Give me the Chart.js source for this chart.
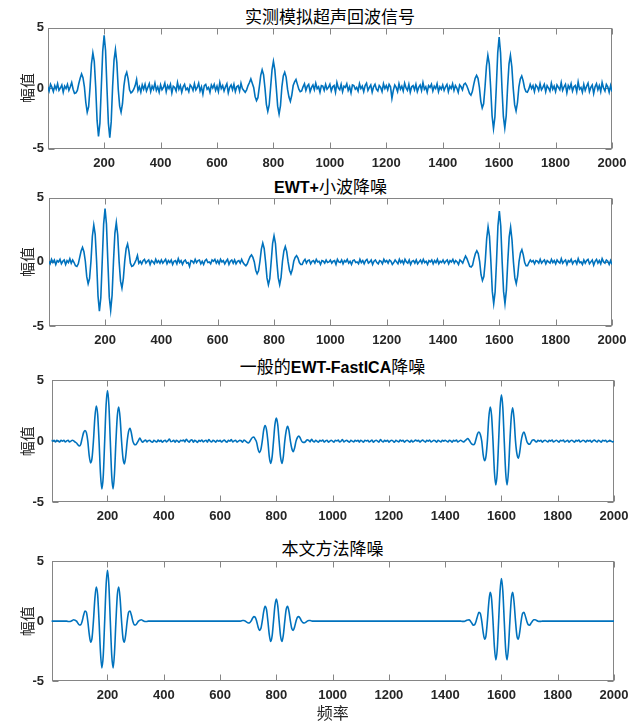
<!DOCTYPE html>
<html lang="zh">
<head>
<meta charset="UTF-8">
<title>超声回波信号降噪对比</title>
<script src="https://cdn.jsdelivr.net/npm/chart.js"></script>
<style>
  body { margin: 0; background: #fff; }
  #page { position: relative; width: 642px; height: 724px; overflow: hidden; }
  canvas { position: absolute; left: 0; }
  .ttl { position: absolute; text-align: center; white-space: nowrap; color: #000;
         font-family: "Noto Sans CJK SC", sans-serif; font-size: 17px; line-height: 20px; }
  .ttl b { font-family: "Liberation Sans", Arial, sans-serif; font-size: 16px; font-weight: bold; }
</style>
</head>
<body>
<div id="page">
  <div class="ttl" style="left:48px;width:564px;top:6px">实测模拟超声回波信号</div>
  <div class="ttl" style="left:49px;width:563px;top:176px"><b>EWT+</b>小波降噪</div>
  <div class="ttl" style="left:51px;width:563px;top:356px">一般的<b>EWT-FastICA</b>降噪</div>
  <div class="ttl" style="left:51px;width:563px;top:538px">本文方法降噪</div>
  <canvas id="c0"></canvas>
  <canvas id="c1"></canvas>
  <canvas id="c2"></canvas>
  <canvas id="c3"></canvas>
</div>

<script>
// 采样点序号（每5个点取一个）
const sampleIdx = Array.from({ length: 401 }, (_, i) => i * 5);
const xTicks = [200, 400, 600, 800, 1000, 1200, 1400, 1600, 1800, 2000];
const yTicks = [-5, 0, 5];

// 实测模拟超声回波信号
const rawEcho = [
  0.1,-0.25,0.3,0.05,-0.3,0.2,-0.1,0.35,-0.2,0.0,0.25,-0.35,0.15,-0.05,0.3,-0.2,0.1,0.45,-0.1,-0.45,
  -0.4,-0.2,0.35,0.8,1.16,0.85,0.1,-1.2,-2.0,-1.55,0.05,2.0,2.9,2.2,0.1,-2.7,-4.0,-2.9,0.1,3.05,
  4.36,3.1,0.0,-2.9,-4.1,-2.8,0.1,2.3,3.17,2.1,-0.1,-1.5,-2.0,-1.3,0.15,1.0,1.3,0.75,-0.15,-0.4,
  -0.3,-0.1,0.2,0.7,-0.2,0.1,-0.35,0.25,-0.1,0.3,-0.25,0.05,0.35,-0.3,0.15,-0.1,0.4,-0.2,0.1,-0.35,
  0.25,-0.15,0.05,0.4,-0.3,0.2,-0.05,0.3,-0.4,0.15,0.05,-0.25,0.45,-0.1,0.2,-0.35,0.1,0.3,-0.15,0.0,
  -0.3,0.25,0.1,-0.2,0.35,-0.15,0.05,0.4,-0.25,0.1,-0.5,0.2,0.3,-0.1,0.05,-0.35,0.25,0.0,0.3,-0.2,
  0.15,-0.3,0.45,-0.05,0.2,-0.25,0.1,0.35,-0.4,0.05,0.25,-0.15,0.3,-0.3,0.1,0.2,-0.25,0.4,-0.05,-0.2,
  -0.35,-0.15,0.2,0.45,0.75,0.4,0.05,-0.7,-1.05,-0.8,0.1,1.05,1.5,1.1,0.0,-1.35,-1.93,-1.4,0.05,1.5,
  2.2,1.5,0.05,-1.5,-2.15,-1.45,0.1,1.0,1.3,0.9,-0.1,-0.75,-1.1,-0.6,0.2,0.5,0.7,0.3,-0.1,-0.3,
  -0.25,0.1,0.35,-0.2,0.15,0.3,-0.3,0.05,0.25,-0.15,0.4,-0.05,0.1,-0.35,0.2,0.15,-0.2,0.3,-0.1,0.05,
  0.3,-0.25,0.1,0.2,-0.35,0.45,0.0,-0.15,0.3,-0.3,0.15,0.05,0.35,-0.2,0.1,-0.4,0.25,0.2,-0.1,0.05,
  -0.25,0.35,-0.05,0.15,-0.3,0.2,0.4,-0.2,0.05,0.25,-0.35,0.1,0.3,-0.1,-0.25,0.2,0.05,-0.3,0.35,-0.05,
  0.2,-0.15,0.3,0.1,-0.85,-0.2,0.25,0.05,-0.3,0.35,-0.1,0.15,-0.25,0.4,0.0,-0.2,0.3,-0.35,0.1,0.2,
  -0.15,0.3,-0.3,0.05,0.25,-0.2,0.45,-0.1,0.1,-0.35,0.2,0.05,0.3,-0.25,0.15,-0.05,0.35,-0.3,0.1,-0.1,
  0.25,-0.2,0.1,0.3,-0.3,0.15,-0.05,0.35,-0.2,0.2,0.0,-0.35,0.25,0.1,-0.15,0.3,0.4,0.2,-0.1,-0.45,
  -0.6,-0.3,0.3,0.8,1.05,0.8,0.05,-1.1,-1.65,-1.3,0.1,1.8,2.7,2.0,0.0,-2.3,-3.36,-2.4,0.1,2.9,
  4.2,2.9,0.0,-2.35,-3.3,-2.3,0.1,2.0,2.7,1.75,-0.05,-1.4,-1.9,-1.2,0.1,0.75,1.0,0.6,0.0,-0.3,
  -0.35,-0.1,0.3,-0.05,0.2,-0.3,0.25,0.1,-0.2,0.35,-0.15,0.05,0.3,-0.3,0.2,0.0,-0.25,0.4,-0.1,0.15,
  -0.3,0.25,0.05,-0.15,0.45,-0.2,0.1,0.3,-0.4,0.2,-0.05,0.35,-0.25,0.1,0.2,-0.3,0.5,-0.1,0.05,-0.35,
  0.3,-0.2,0.15,0.4,-0.3,0.05,0.25,-0.45,0.1,0.35,-0.15,0.2,-0.3,0.45,0.0,-0.25,0.3,0.1,-0.35,0.2,
  -0.3
];

// EWT+小波降噪
const ewtWavelet = [
  0.05,-0.15,0.2,-0.05,0.15,-0.2,0.1,0.0,0.2,-0.15,0.05,0.15,-0.2,0.1,-0.05,0.25,-0.1,0.15,-0.05,-0.3,
  -0.35,-0.15,0.35,0.85,1.13,0.8,0.05,-1.15,-1.7,-1.3,0.05,2.0,2.87,2.15,0.05,-2.65,-3.85,-2.8,0.05,2.95,
  4.15,2.95,0.0,-2.75,-3.77,-2.6,0.05,2.25,3.07,2.1,0.0,-1.5,-2.04,-1.3,0.1,1.05,1.4,0.8,-0.1,-0.35,
  -0.3,-0.1,0.15,0.5,-0.1,0.05,-0.15,0.1,0.2,-0.1,0.05,0.15,-0.2,0.1,0.0,-0.15,0.2,-0.05,0.1,-0.1,
  0.15,-0.1,0.05,0.2,-0.15,0.1,-0.05,0.15,-0.2,0.05,0.1,-0.15,0.25,-0.05,0.1,-0.2,0.05,0.15,-0.1,-0.05,
  -0.35,0.1,0.05,-0.1,0.2,-0.05,0.1,0.15,-0.15,0.05,-0.2,0.1,0.2,-0.05,0.0,-0.15,0.15,0.05,0.2,-0.1,
  0.1,-0.15,0.2,0.0,0.1,-0.15,0.05,0.2,-0.2,0.05,0.15,-0.1,0.15,-0.15,0.05,0.1,-0.1,0.2,-0.05,-0.2,
  -0.3,-0.15,0.15,0.4,0.54,0.35,0.0,-0.65,-0.93,-0.7,0.05,1.0,1.47,1.05,0.0,-1.25,-1.78,-1.3,0.05,1.45,
  2.04,1.45,0.0,-1.25,-1.78,-1.2,0.05,0.85,1.2,0.8,0.0,-0.65,-0.93,-0.6,0.05,0.35,0.49,0.3,-0.05,-0.2,
  -0.2,0.05,0.2,-0.1,0.1,0.15,-0.15,0.05,0.1,-0.1,0.2,0.0,0.05,-0.2,0.1,0.05,-0.1,0.15,-0.05,0.0,
  0.15,-0.1,0.05,0.1,-0.2,0.2,0.0,-0.05,0.15,-0.15,0.1,0.0,0.2,-0.1,0.05,-0.2,0.1,0.15,-0.05,0.0,
  -0.15,0.2,-0.05,0.1,-0.15,0.1,0.2,-0.1,0.0,0.15,-0.2,0.05,0.15,-0.05,-0.15,0.1,0.05,-0.15,0.2,0.0,
  0.1,-0.1,0.15,0.05,-0.2,-0.05,0.15,0.0,-0.15,0.2,-0.05,0.1,-0.15,0.2,0.0,-0.1,0.15,-0.2,0.05,0.1,
  -0.1,0.15,-0.15,0.0,0.15,-0.1,0.2,-0.05,0.05,-0.2,0.1,0.0,0.15,-0.15,0.1,-0.05,0.2,-0.15,0.05,-0.05,
  0.15,-0.1,0.05,0.15,-0.15,0.1,0.0,0.2,-0.1,0.1,0.0,-0.2,0.15,0.05,-0.1,0.2,0.45,0.25,-0.05,-0.35,
  -0.4,-0.25,0.25,0.65,0.87,0.65,0.05,-1.0,-1.45,-1.15,0.05,1.8,2.74,2.0,0.0,-2.3,-3.26,-2.35,0.05,2.8,
  3.97,2.8,0.0,-2.3,-3.26,-2.2,0.05,1.95,2.7,1.7,0.0,-1.25,-1.7,-1.1,0.05,0.7,0.95,0.55,-0.05,-0.3,
  -0.3,-0.05,0.15,0.0,0.1,-0.15,0.1,0.05,-0.1,0.2,-0.1,0.05,0.15,-0.15,0.1,0.0,-0.1,0.2,-0.05,0.1,
  -0.15,0.15,0.0,-0.1,0.25,-0.1,0.05,0.15,-0.2,0.1,0.0,0.2,-0.15,0.05,0.1,-0.15,0.25,-0.05,0.0,-0.2,
  0.15,-0.1,0.1,0.2,-0.15,0.0,0.15,-0.25,0.05,0.2,-0.1,0.1,-0.15,0.25,0.0,-0.1,0.15,0.05,-0.2,0.1,
  -0.2
];

// 一般的EWT-FastICA降噪
const ewtFastICA = [
  0.08,0.0,0.07,-0.06,0.08,0.02,-0.07,0.08,0.0,0.07,-0.06,0.02,0.08,-0.07,0.0,0.08,0.02,-0.07,-0.15,-0.3,
  -0.4,-0.25,0.25,0.7,0.88,0.7,0.0,-1.2,-1.79,-1.4,0.0,1.9,2.88,2.2,0.0,-2.65,-3.92,-2.85,0.0,2.95,
  4.16,2.95,0.0,-2.85,-3.92,-2.6,0.0,2.1,2.8,1.85,0.0,-1.4,-1.87,-1.2,0.0,0.8,1.06,0.65,0.0,-0.25,
  -0.3,-0.15,0.05,0.25,0.05,-0.08,0.02,0.1,-0.06,0.04,0.08,-0.04,-0.08,0.06,0.0,-0.07,0.09,-0.02,0.06,-0.08,
  0.02,0.08,-0.06,0.04,0.18,-0.05,-0.02,0.08,-0.08,0.06,0.0,-0.09,0.07,0.02,0.1,-0.06,0.16,0.02,-0.08,0.06,
  0.12,-0.08,0.06,0.0,-0.1,0.08,-0.02,0.1,-0.06,0.02,0.08,-0.08,0.14,0.0,-0.07,0.06,0.02,-0.09,0.07,0.0,
  0.06,-0.07,0.02,0.09,-0.03,-0.08,0.07,0.0,0.14,-0.06,0.02,0.08,-0.07,0.0,0.06,0.03,-0.08,0.1,0.02,-0.08,
  -0.15,-0.05,0.15,0.3,0.34,0.15,-0.1,-0.65,-0.94,-0.7,0.0,0.9,1.28,0.95,0.0,-1.3,-1.84,-1.3,0.0,1.35,
  1.89,1.35,0.0,-1.3,-1.84,-1.25,0.0,0.85,1.22,0.85,0.0,-0.6,-0.86,-0.55,0.0,0.3,0.42,0.25,0.0,-0.1,
  -0.1,0.0,0.12,0.06,-0.06,0.16,0.0,-0.07,0.08,-0.02,-0.08,0.07,0.0,0.09,-0.07,0.02,0.08,-0.08,0.0,0.07,
  0.0,-0.08,0.07,0.02,0.09,-0.07,0.0,0.14,-0.06,0.02,0.08,-0.02,-0.09,0.07,0.0,-0.07,0.08,0.0,0.07,-0.08,
  0.08,0.0,-0.08,0.07,0.02,0.08,-0.07,0.0,0.09,-0.08,0.02,0.07,0.0,-0.08,0.13,0.0,-0.07,0.08,-0.02,0.07,
  -0.08,0.02,0.08,0.0,-0.09,0.07,0.0,-0.07,0.09,0.0,0.08,-0.08,0.02,0.07,0.0,-0.08,0.08,-0.07,0.0,0.09,
  0.0,0.08,-0.07,0.02,0.09,0.0,-0.08,0.07,0.0,0.1,-0.07,0.0,0.08,0.02,-0.08,0.07,0.0,-0.07,0.08,0.0,
  0.08,0.0,-0.07,0.08,0.02,-0.08,0.07,0.0,0.09,-0.07,0.0,0.08,0.0,-0.07,0.02,0.12,0.22,0.1,-0.1,-0.25,
  -0.3,-0.2,0.2,0.6,0.75,0.55,0.0,-1.1,-1.6,-1.25,0.0,1.9,2.8,2.1,0.0,-2.5,-3.6,-2.6,0.0,2.7,
  3.8,2.7,0.0,-2.55,-3.6,-2.45,0.0,2.0,2.75,1.8,0.0,-1.05,-1.4,-0.9,0.0,0.55,0.75,0.45,0.0,-0.2,
  -0.25,-0.1,0.08,0.12,0.0,-0.07,0.08,0.0,0.07,-0.08,0.02,0.08,0.0,-0.07,0.08,0.0,0.09,-0.07,0.0,0.08,
  0.0,-0.08,0.07,0.02,0.09,-0.07,0.0,0.08,-0.08,0.02,0.07,0.0,-0.08,0.08,0.0,0.09,-0.07,0.0,0.08,0.02,
  -0.07,0.08,0.0,0.07,-0.08,0.02,0.09,0.0,-0.07,0.08,0.0,-0.08,0.07,0.02,0.08,-0.07,0.0,0.08,0.0,-0.06,
  0.0
];

// 本文方法降噪
const proposed = [
  0,0,0,0,0,0,0,0,0,0,0,0,-0.03,-0.03,0,0.06,0.12,0.07,0,-0.18,
  -0.32,-0.3,0,0.49,0.85,0.74,0,-1.06,-1.75,-1.41,0,1.84,2.85,2.19,0,-2.58,-3.9,-2.83,0,2.97,
  4.25,2.97,0,-2.83,-3.9,-2.58,0,2.19,2.85,1.84,0,-1.41,-1.75,-1.06,0,0.74,0.85,0.49,0,-0.3,
  -0.32,-0.18,0,0.07,0.12,0.06,0,-0.03,-0.03,0,0,0,0,0,0,0,0,0,0,0,
  0,0,0,0,0,0,0,0,0,0,0,0,0,0,0,0,0,0,0,0,
  0,0,0,0,0,0,0,0,0,0,0,0,0,0,0,0,0,0,0,0,
  0,0,0,0,0,0,0,0,0,0,0,0,0,0,0,0.02,0.05,0.05,0,-0.08,
  -0.16,-0.14,0,0.22,0.38,0.33,0,-0.47,-0.77,-0.62,0,0.79,1.25,0.98,0,-1.13,-1.7,-1.24,0,1.29,
  1.85,1.29,0,-1.24,-1.7,-1.13,0,0.98,1.25,0.79,0,-0.62,-0.77,-0.47,0,0.33,0.38,0.22,0,-0.14,
  -0.16,-0.08,0,0.05,0.05,0.02,0,0,0,0,0,0,0,0,0,0,0,0,0,0,
  0,0,0,0,0,0,0,0,0,0,0,0,0,0,0,0,0,0,0,0,
  0,0,0,0,0,0,0,0,0,0,0,0,0,0,0,0,0,0,0,0,
  0,0,0,0,0,0,0,0,0,0,0,0,0,0,0,0,0,0,0,0,
  0,0,0,0,0,0,0,0,0,0,0,0,0,0,0,0,0,0,0,0,
  0,0,0,0,0,0,0,0,0,0,0,0,-0.02,-0.02,0,0.05,0.1,0.11,0,-0.18,
  -0.33,-0.29,0,0.42,0.73,0.64,0,-0.92,-1.5,-1.22,0,1.54,2.4,1.85,0,-2.16,-3.24,-2.37,0,2.49,
  3.56,2.49,0,-2.37,-3.24,-2.16,0,1.85,2.4,1.54,0,-1.22,-1.5,-0.92,0,0.64,0.73,0.42,0,-0.29,
  -0.33,-0.18,0,0.11,0.12,0.05,0,-0.02,-0.02,0,0,0,0,0,0,0,0,0,0,0,
  0,0,0,0,0,0,0,0,0,0,0,0,0,0,0,0,0,0,0,0,
  0,0,0,0,0,0,0,0,0,0,0,0,0,0,0,0,0,0,0,0,
  0
];

const lineColor = '#0072BD';
const tickFont = { family: "'Liberation Sans', Arial, sans-serif", size: 13, weight: 'bold' };
const cjkFont = "'Noto Sans CJK SC', sans-serif";

// 每个子图的绘图区位置（像素）；噪声大的两幅用折线，平滑的两幅用曲线
const panels = [
  { id: 'c0', data: rawEcho,    top: 27.5, bottom: 148.5, left: 48,   right: 612, smooth: false },
  { id: 'c1', data: ewtWavelet, top: 197,  bottom: 326,   left: 49,   right: 612, smooth: false },
  { id: 'c2', data: ewtFastICA, top: 377,  bottom: 502,   left: 51.5, right: 614, smooth: true },
  { id: 'c3', data: proposed,   top: 558.5, bottom: 681,  left: 51.5, right: 614, smooth: true, xLabel: '频率' }
];

// MATLAB 风格的外框和向内的刻度线
const boxPlugin = {
  id: 'matlabBox',
  beforeDatasetsDraw(chart) {
    const { ctx, chartArea: a, scales: { x, y } } = chart;
    const L = Math.round(a.left) + 0.5, R = Math.round(a.right) - 0.5;
    const T = Math.round(a.top) + 0.5, B = Math.round(a.bottom) - 0.5;
    ctx.save();
    ctx.strokeStyle = '#858585';
    ctx.lineWidth = 1;
    ctx.strokeRect(L, T, R - L, B - T);
    ctx.beginPath();
    x.ticks.forEach(t => {
      const px = Math.round(x.getPixelForValue(t.value)) + 0.5;
      ctx.moveTo(px, B); ctx.lineTo(px, B - 6);
      ctx.moveTo(px, T); ctx.lineTo(px, T + 6);
    });
    y.ticks.forEach(t => {
      const py = Math.round(y.getPixelForValue(t.value)) + 0.5;
      ctx.moveTo(L, py); ctx.lineTo(L + 6, py);
      ctx.moveTo(R, py); ctx.lineTo(R - 6, py);
    });
    ctx.stroke();
    ctx.restore();
  }
};

panels.forEach(p => {
  const canvas = document.getElementById(p.id);
  const cTop = Math.floor(p.top) - 12;
  const xBox = p.xLabel ? 42 : 34;
  const cH = Math.round(p.bottom - cTop + xBox);
  canvas.width = 642;
  canvas.height = cH;
  canvas.style.top = cTop + 'px';
  canvas.style.width = '642px';
  canvas.style.height = cH + 'px';

  const ds = {
    data: p.data,
    borderColor: lineColor,
    borderWidth: 1.6,
    pointRadius: 0,
    fill: false,
    tension: 0
  };
  if (p.smooth) ds.cubicInterpolationMode = 'monotone';

  new Chart(canvas.getContext('2d'), {
    type: 'line',
    data: { labels: sampleIdx, datasets: [ds] },
    options: {
      responsive: false,
      animation: false,
      devicePixelRatio: 1,
      layout: { padding: { top: p.top - cTop, right: 642 - p.right, bottom: 0, left: 0 } },
      plugins: { legend: { display: false }, tooltip: { enabled: false } },
      scales: {
        x: {
          type: 'linear',
          min: 1,
          max: 2000,
          afterBuildTicks: s => { s.ticks = xTicks.map(v => ({ value: v })); },
          afterFit: s => { s.height = cH - (p.bottom - cTop); },
          grid: { display: false, drawTicks: false },
          border: { display: false },
          ticks: {
            autoSkip: false, maxRotation: 0, padding: 7, color: '#262626', font: tickFont,
            callback: v => String(v)
          },
          title: {
            display: !!p.xLabel,
            text: p.xLabel || '',
            color: '#262626',
            font: { family: cjkFont, size: 16, lineHeight: 1 },
            padding: { top: 0, bottom: 2 }
          }
        },
        y: {
          min: -5,
          max: 5,
          afterBuildTicks: s => { s.ticks = yTicks.map(v => ({ value: v })); },
          afterFit: s => { s.width = p.left; },
          grid: { display: false, drawTicks: false },
          border: { display: false },
          ticks: { padding: p.left - 44, color: '#262626', font: tickFont, callback: v => String(v) },
          title: {
            display: true,
            text: '幅值',
            color: '#262626',
            font: { family: cjkFont, size: 15, lineHeight: 1 },
            padding: { top: 20, bottom: 0 }
          }
        }
      }
    },
    plugins: [boxPlugin]
  });
});
</script>
</body>
</html>
